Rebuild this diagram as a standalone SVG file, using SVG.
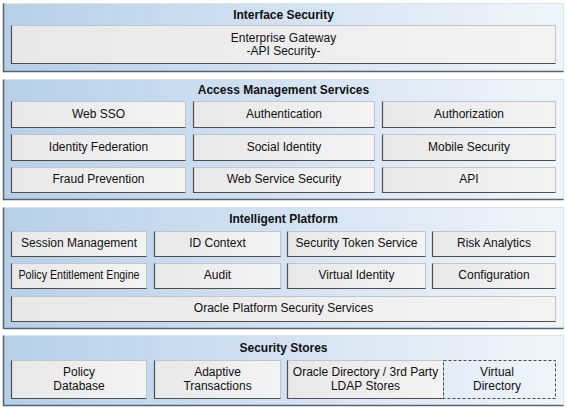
<svg xmlns="http://www.w3.org/2000/svg" width="567" height="411" viewBox="0 0 567 411">
<defs>
<linearGradient id="lg" x1="0" y1="0" x2="1" y2="0">
<stop offset="0" stop-color="#b6cfe9"/>
<stop offset="0.5" stop-color="#d3e2f2"/>
<stop offset="1" stop-color="#eff5fb"/>
</linearGradient>
<linearGradient id="bg" x1="0" y1="0" x2="1" y2="0">
<stop offset="0" stop-color="#e8e8e8"/>
<stop offset="1" stop-color="#f3f3f3"/>
</linearGradient>
</defs>
<style>
.layer{fill:url(#lg);stroke:#d9e5f1;stroke-width:1}
.lsh{fill:none;stroke:#5b626b;stroke-width:1.5}
.box{fill:url(#bg);stroke:#c4c4c4;stroke-width:1}
.bsh{fill:none;stroke:#4f4f4f;stroke-width:1.2}
.dash{fill:none;stroke:#4a4a4a;stroke-width:1;stroke-dasharray:3,2}
text{font-family:"Liberation Sans",Arial,sans-serif;font-size:12px;fill:#111111;text-anchor:middle}
.t{font-weight:bold}
</style>
<g id="layer-interface">
<rect class="layer" x="3.5" y="3.5" width="560" height="68"/>
<path class="lsh" d="M3.5,3.5V71.5H563.5"/>
<text class="t" x="283.5" y="19">Interface Security</text>
</g>
<g id="enterprise-gateway">
<rect class="box" x="11.5" y="25.5" width="544" height="38"/>
<path class="bsh" d="M11.5,25.5V63.5H555.5"/>
<text x="283.5" y="42">Enterprise Gateway</text>
<text x="283.5" y="55">-API Security-</text>
</g>
<g id="layer-access">
<rect class="layer" x="3.5" y="79.5" width="560" height="120"/>
<path class="lsh" d="M3.5,79.5V199.5H563.5"/>
<text class="t" x="283.5" y="94">Access Management Services</text>
</g>
<g id="web-sso"><rect class="box" x="11.5" y="101.5" width="174" height="26"/><path class="bsh" d="M11.5,101.5V127.5H185.5"/><text x="98.5" y="118">Web SSO</text></g>
<g id="authentication"><rect class="box" x="193.5" y="101.5" width="181" height="26"/><path class="bsh" d="M193.5,101.5V127.5H374.5"/><text x="284" y="118">Authentication</text></g>
<g id="authorization"><rect class="box" x="382.5" y="101.5" width="173" height="26"/><path class="bsh" d="M382.5,101.5V127.5H555.5"/><text x="469" y="118">Authorization</text></g>
<g id="identity-federation"><rect class="box" x="11.5" y="134.5" width="174" height="26"/><path class="bsh" d="M11.5,134.5V160.5H185.5"/><text x="98.5" y="151">Identity Federation</text></g>
<g id="social-identity"><rect class="box" x="193.5" y="134.5" width="181" height="26"/><path class="bsh" d="M193.5,134.5V160.5H374.5"/><text x="284" y="151">Social Identity</text></g>
<g id="mobile-security"><rect class="box" x="382.5" y="134.5" width="173" height="26"/><path class="bsh" d="M382.5,134.5V160.5H555.5"/><text x="469" y="151">Mobile Security</text></g>
<g id="fraud-prevention"><rect class="box" x="11.5" y="167.5" width="174" height="25"/><path class="bsh" d="M11.5,167.5V192.5H185.5"/><text x="98.5" y="183">Fraud Prevention</text></g>
<g id="web-service-security"><rect class="box" x="193.5" y="167.5" width="181" height="25"/><path class="bsh" d="M193.5,167.5V192.5H374.5"/><text x="284" y="183">Web Service Security</text></g>
<g id="api"><rect class="box" x="382.5" y="167.5" width="173" height="25"/><path class="bsh" d="M382.5,167.5V192.5H555.5"/><text x="469" y="183">API</text></g>
<g id="layer-platform">
<rect class="layer" x="3.5" y="207.5" width="560" height="121"/>
<path class="lsh" d="M3.5,207.5V328.5H563.5"/>
<text class="t" x="283.5" y="223">Intelligent Platform</text>
</g>
<g id="session-management"><rect class="box" x="11.5" y="231.5" width="135" height="25"/><path class="bsh" d="M11.5,231.5V256.5H146.5"/><text x="79" y="247">Session Management</text></g>
<g id="id-context"><rect class="box" x="154.5" y="231.5" width="126" height="25"/><path class="bsh" d="M154.5,231.5V256.5H280.5"/><text x="217.5" y="247">ID Context</text></g>
<g id="security-token-service"><rect class="box" x="287.5" y="231.5" width="138" height="25"/><path class="bsh" d="M287.5,231.5V256.5H425.5"/><text x="356.5" y="247">Security Token Service</text></g>
<g id="risk-analytics"><rect class="box" x="432.5" y="231.5" width="123" height="25"/><path class="bsh" d="M432.5,231.5V256.5H555.5"/><text x="494" y="247">Risk Analytics</text></g>
<g id="policy-entitlement-engine"><rect class="box" x="11.5" y="263.5" width="135" height="25"/><path class="bsh" d="M11.5,263.5V288.5H146.5"/><text x="79" y="279" textLength="121" lengthAdjust="spacingAndGlyphs">Policy Entitlement Engine</text></g>
<g id="audit"><rect class="box" x="154.5" y="263.5" width="126" height="25"/><path class="bsh" d="M154.5,263.5V288.5H280.5"/><text x="217.5" y="279">Audit</text></g>
<g id="virtual-identity"><rect class="box" x="287.5" y="263.5" width="138" height="25"/><path class="bsh" d="M287.5,263.5V288.5H425.5"/><text x="356.5" y="279">Virtual Identity</text></g>
<g id="configuration"><rect class="box" x="432.5" y="263.5" width="123" height="25"/><path class="bsh" d="M432.5,263.5V288.5H555.5"/><text x="494" y="279">Configuration</text></g>
<g id="opss"><rect class="box" x="11.5" y="296.5" width="544" height="25"/><path class="bsh" d="M11.5,296.5V321.5H555.5"/><text x="283.5" y="312">Oracle Platform Security Services</text></g>
<g id="layer-stores">
<rect class="layer" x="3.5" y="335.5" width="560" height="70"/>
<path class="lsh" d="M3.5,335.5V405.5H563.5"/>
<text class="t" x="283.5" y="352">Security Stores</text>
</g>
<g id="policy-database"><rect class="box" x="11.5" y="360.5" width="135" height="38"/><path class="bsh" d="M11.5,360.5V398.5H146.5"/><text x="79" y="376">Policy</text><text x="79" y="390">Database</text></g>
<g id="adaptive-transactions"><rect class="box" x="154.5" y="360.5" width="126" height="38"/><path class="bsh" d="M154.5,360.5V398.5H280.5"/><text x="217.5" y="376">Adaptive</text><text x="217.5" y="390">Transactions</text></g>
<g id="oracle-directory"><rect class="box" x="287.5" y="360.5" width="156" height="38"/><path class="bsh" d="M287.5,360.5V398.5H443.5"/><text x="365.5" y="376">Oracle Directory / 3rd Party</text><text x="365.5" y="390">LDAP Stores</text></g>
<g id="virtual-directory"><rect class="dash" x="443.5" y="360.5" width="112" height="38"/><text x="497" y="376">Virtual</text><text x="497" y="390">Directory</text></g>
<g id="connectors"></g>
</svg>
